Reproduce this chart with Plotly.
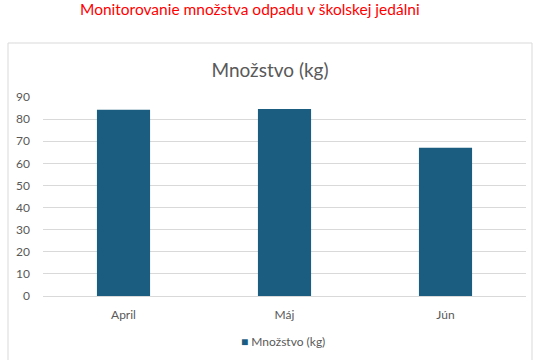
import plotly.graph_objects as go

categories = ["April", "Máj", "Jún"]
values = [84.2, 84.6, 67.0]
series_name = "Množstvo (kg)"
y_ticks = [0, 10, 20, 30, 40, 50, 60, 70, 80, 90]

W, H = 540, 360
L, R, T, B = 43, 14, 97, 64
pw, ph = W - L - R, H - T - B

def px_x(x):
    return (x - L) / pw

def px_y(y):
    return (H - B - y) / ph

fig = go.Figure()
fig.add_trace(go.Bar(
    x=categories, y=values, name=series_name,
    marker=dict(color="#1b5d80", line=dict(width=0)),
    width=0.33, showlegend=False,
))

font_family = "Lato, 'Open Sans', sans-serif"

fig.update_layout(
    width=W, height=H,
    margin=dict(l=L, r=R, t=T, b=B, autoexpand=False),
    paper_bgcolor="white", plot_bgcolor="white",
    font=dict(family=font_family, color="#595959", size=12),
    title=dict(text="Množstvo (kg)", x=0.5, xanchor="center",
               y=1 - 70 / H, yanchor="middle",
               font=dict(size=19, color="#595959", family=font_family)),
    xaxis=dict(showgrid=False, showline=True, linecolor="#d9d9d9",
               ticks="", ticklabelstandoff=8,
               tickfont=dict(size=12, color="#595959")),
    yaxis=dict(range=[0, 90], tickvals=y_ticks, showgrid=True,
               gridcolor="#d9d9d9", gridwidth=1, zeroline=False,
               showline=False, ticks="", ticklabelstandoff=12,
               tickfont=dict(size=12, color="#595959")),
    showlegend=False,
    shapes=[dict(type="rect", xref="paper", yref="paper",
                 x0=px_x(8), x1=px_x(532), y0=px_y(380), y1=px_y(43),
                 line=dict(color="#d9d9d9", width=1), layer="below")],
    annotations=[
        dict(text="Monitorovanie množstva odpadu v školskej jedálni",
             xref="paper", yref="paper", x=px_x(250), y=px_y(9),
             xanchor="center", yanchor="middle", showarrow=False,
             font=dict(size=15.5, color="#ff0000", family=font_family)),
        dict(text="<span style='color:#1b5d80'>■</span> " + series_name,
             xref="paper", yref="paper", x=px_x(283), y=px_y(341),
             xanchor="center", yanchor="middle", showarrow=False,
             font=dict(size=12, color="#595959", family=font_family)),
    ],
)

fig.write_html("out.html")
